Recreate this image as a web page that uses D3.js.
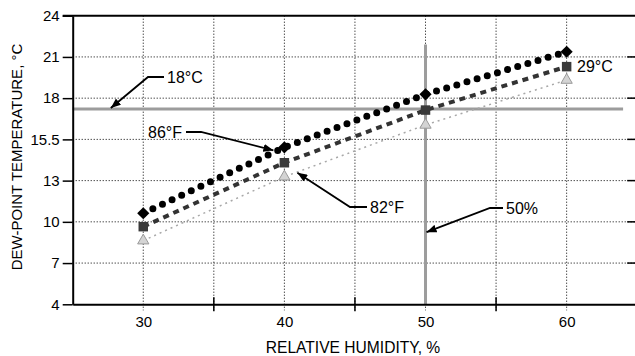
<!DOCTYPE html>
<html><head><meta charset="utf-8">
<script src="https://cdn.jsdelivr.net/npm/d3@7"></script>
<style>
html,body{margin:0;padding:0;background:#fff;}
svg{display:block;font-family:"Liberation Sans",Arial,Helvetica,sans-serif;}
</style></head><body>
<svg id="chart" width="635" height="356"></svg>
<script>
// Relative humidity (%) and dew-point temperature (°C) for three air temperatures
const humidity = [30, 40, 50, 60];
const dew86F = [10.31, 14.88, 18.55, 21.5];
const dew29C = [9.38, 13.81, 17.46, 20.47];
const dew82F = [8.41, 12.84, 16.43, 19.54];

// Value axis runs 4..24 in seven equal steps, labels rounded for print
const yTickLabels = ["4", "7", "10", "13", "15.5", "18", "21", "24"];
const xTickLabels = ["30", "40", "50", "60"];

// Reference lines
const refTemp = 17.53;        // 18 °C dew-point guide
const refHumidity = 50;       // 50 % RH guide
const refHumidityTop = 22;

// Callout texts
const noteTexts = ["18°C", "86°F", "82°F", "50%", "29°C"];

const W = 635, H = 356;
const plot = {left: 72.7, right: 637.2, top: 15.7, bottom: 304.3};

const svg = d3.select("#chart");
const x = d3.scaleLinear().domain([25, 65]).range([plot.left, plot.right]);
const y = d3.scaleLinear().domain([4, 24]).range([plot.bottom, plot.top]);
const yTicks = d3.range(yTickLabels.length).map(i => 4 + i * 20 / 7);
const xGrid = d3.range(30, 61, 5);

// arrowhead
svg.append("defs").append("marker")
  .attr("id", "arrow").attr("viewBox", "0 0 10 8")
  .attr("refX", 10).attr("refY", 4)
  .attr("markerWidth", 10).attr("markerHeight", 8)
  .attr("markerUnits", "userSpaceOnUse").attr("orient", "auto")
  .append("path").attr("d", "M0,0 L10,4 L0,8 Z").attr("fill", "#000");

// dotted grid
const grid = svg.append("g").attr("stroke", "#000").attr("stroke-width", 1)
  .attr("stroke-dasharray", "1,2");
grid.selectAll("line.h").data(yTicks.slice(1, -1)).join("line")
  .attr("x1", plot.left).attr("x2", W)
  .attr("y1", d => y(d)).attr("y2", d => y(d));
grid.selectAll("line.v").data(xGrid).join("line")
  .attr("x1", d => x(d)).attr("x2", d => x(d))
  .attr("y1", plot.top).attr("y2", plot.bottom + 6);

// reference guides
svg.append("line")
  .attr("x1", x(25)).attr("x2", x(64))
  .attr("y1", y(refTemp)).attr("y2", y(refTemp))
  .attr("stroke", "#9c9c9c").attr("stroke-width", 3);
svg.append("line")
  .attr("x1", x(refHumidity)).attr("x2", x(refHumidity))
  .attr("y1", y(4)).attr("y2", y(refHumidityTop))
  .attr("stroke", "#9c9c9c").attr("stroke-width", 3);

// axes
const yAxis = d3.axisLeft(y).tickValues(yTicks)
  .tickFormat((d, i) => yTickLabels[i]).tickSize(10).tickPadding(3).tickSizeOuter(0);
const gy = svg.append("g").attr("transform", `translate(${plot.left},0)`).call(yAxis);
gy.select(".domain").attr("stroke-width", 2);
gy.selectAll(".tick line").attr("stroke-width", 1.5);
gy.selectAll("text").attr("font-size", 15).attr("fill", "#000")
  .attr("font-family", "Liberation Sans, Arial, sans-serif");

const xAxis = d3.axisBottom(x).tickValues(humidity)
  .tickFormat((d, i) => xTickLabels[i]).tickSize(0).tickPadding(12).tickSizeOuter(0);
const gx = svg.append("g").attr("transform", `translate(0,${plot.bottom})`).call(xAxis);
gx.select(".domain").attr("stroke-width", 2);
gx.selectAll("text").attr("font-size", 15).attr("fill", "#000")
  .attr("font-family", "Liberation Sans, Arial, sans-serif");

// category-style tick marks between labels
svg.append("g").attr("stroke", "#000").attr("stroke-width", 1.5)
  .selectAll("line").data([35, 45, 55]).join("line")
  .attr("x1", d => x(d)).attr("x2", d => x(d))
  .attr("y1", plot.bottom - 7).attr("y2", plot.bottom + 7);

// top frame and right-side tick stubs
svg.append("line").attr("x1", plot.left - 10).attr("x2", W)
  .attr("y1", plot.top).attr("y2", plot.top)
  .attr("stroke", "#000").attr("stroke-width", 2);
svg.append("g").attr("stroke", "#000").attr("stroke-width", 1.5)
  .selectAll("line").data(yTicks.slice(1, -1)).join("line")
  .attr("x1", plot.right - 10).attr("x2", W)
  .attr("y1", d => y(d)).attr("y2", d => y(d));

// series
const line = d3.line().x(d => x(d[0])).y(d => y(d[1]));
const pts = vals => humidity.map((h, i) => [h, vals[i]]);

svg.append("path").datum(pts(dew82F)).attr("d", line)
  .attr("fill", "none").attr("stroke", "#a8a8a8").attr("stroke-width", 1.5)
  .attr("stroke-dasharray", "2,4");
svg.append("path").datum(pts(dew29C)).attr("d", line)
  .attr("fill", "none").attr("stroke", "#333").attr("stroke-width", 4)
  .attr("stroke-dasharray", "6,5");
svg.append("path").datum(pts(dew86F)).attr("d", line)
  .attr("fill", "none").attr("stroke", "#000").attr("stroke-width", 7)
  .attr("stroke-linecap", "round").attr("stroke-dasharray", "0,10.6");

// markers
svg.append("g").selectAll("path").data(pts(dew82F)).join("path")
  .attr("transform", d => `translate(${x(d[0])},${y(d[1])})`)
  .attr("d", d3.symbol(d3.symbolTriangle, 55))
  .attr("fill", "#d4d4d4").attr("stroke", "#9a9a9a").attr("stroke-width", 1);
svg.append("g").selectAll("path").data(pts(dew29C)).join("path")
  .attr("transform", d => `translate(${x(d[0])},${y(d[1])})`)
  .attr("d", d3.symbol(d3.symbolSquare, 90))
  .attr("fill", "#3a3a3a");
svg.append("g").selectAll("path").data(pts(dew86F)).join("path")
  .attr("transform", d => `translate(${x(d[0])},${y(d[1])}) rotate(45)`)
  .attr("d", d3.symbol(d3.symbolSquare, 74))
  .attr("fill", "#000");

// callouts: label position, elbow, arrow tip (tips tied to data through the scales)
const callouts = [
  {label: [167, 77], anchor: "start", elbow: [148, 77], tip: [x(27.7), y(refTemp) - 1]},
  {label: [182, 132], anchor: "end", elbow: [201, 132], tip: [x(humidity[1]) - 11, y(dew86F[1]) + 3]},
  {label: [370, 207], anchor: "start", elbow: [350, 207], tip: [x(humidity[1]) + 13, y(dew82F[1]) - 4]},
  {label: [506, 208], anchor: "start", elbow: [490, 208], tip: [x(refHumidity) + 1, y(9.0)]},
  {label: [577, y(dew29C[3])], anchor: "start"}
];
const cg = svg.append("g");
callouts.forEach((c, i) => {
  cg.append("text").attr("x", c.label[0]).attr("y", c.label[1])
    .attr("dy", "0.36em").attr("text-anchor", c.anchor)
    .attr("font-size", 16).attr("fill", "#000").text(noteTexts[i]);
  if (c.elbow) {
    const start = c.anchor === "start" ? c.label[0] - 3 : c.label[0] + 4;
    cg.append("path")
      .attr("d", `M${start},${c.label[1]} L${c.elbow[0]},${c.elbow[1]} L${c.tip[0]},${c.tip[1]}`)
      .attr("fill", "none").attr("stroke", "#000").attr("stroke-width", 1.8)
      .attr("marker-end", "url(#arrow)");
  }
});

// axis titles
svg.append("text").attr("x", 353).attr("y", 347).attr("dy", "0.36em")
  .attr("text-anchor", "middle").attr("font-size", 15.6).attr("fill", "#000")
  .text("RELATIVE HUMIDITY, %");
svg.append("text").attr("transform", "translate(17,157) rotate(-90)")
  .attr("dy", "0.36em").attr("text-anchor", "middle")
  .attr("font-size", 15).attr("fill", "#000")
  .text("DEW-POINT TEMPERATURE, °C");
</script>
</body></html>
